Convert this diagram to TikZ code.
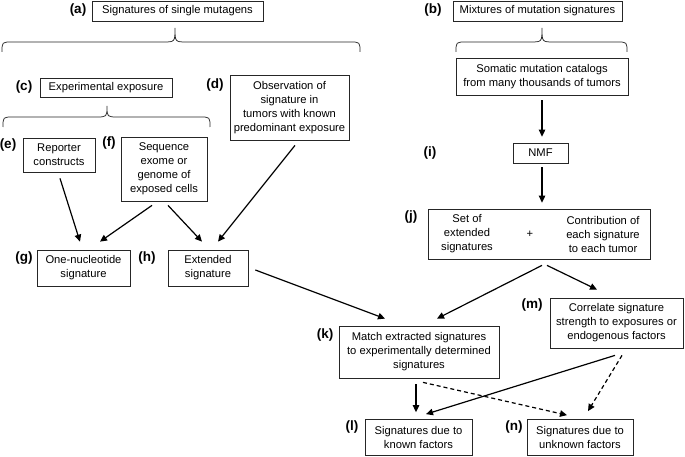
\documentclass[tikz,border=0pt]{standalone}
\usepackage{fontspec}
\setmainfont{Liberation Sans}
\usetikzlibrary{arrows.meta}
\begin{document}
\begin{tikzpicture}[x=1pt,y=-1pt,
  box/.style={draw=black!85,line width=0.75pt,inner sep=1pt,align=center,font=\fontsize{11.2}{14}\selectfont},
  lab/.style={font=\fontsize{13.5}{14}\selectfont\bfseries,inner sep=0pt},
  arr/.style={line width=1.2pt,-{Triangle[length=7pt,width=6.5pt]}},
  darr/.style={arr,dash pattern=on 4pt off 3pt},
  brc/.style={line width=0.75pt,draw=black!85}]
\useasboundingbox (0,0) rectangle (685,457);
% boxes
\node[box,minimum width=171pt,minimum height=20pt] (a) at (177.5,11) {Signatures of single mutagens};
\node[box,minimum width=169pt,minimum height=20pt] (b) at (537.5,11) {Mixtures of mutation signatures};
\node[box,minimum width=132pt,minimum height=19pt] (c) at (106,87.5) {Experimental exposure};
\node[box,minimum width=119pt,minimum height=65pt] (d) at (289.5,107.5) {Observation of\\signature in\\tumors with known\\predominant exposure};
\node[box,minimum width=172pt,minimum height=37pt] (som) at (542,76.5) {Somatic mutation catalogs\\from many thousands of tumors};
\node[box,minimum width=72pt,minimum height=34pt] (e) at (59,155) {Reporter\\constructs};
\node[box,minimum width=86pt,minimum height=64pt] (f) at (164,169) {Sequence\\exome or\\genome of\\exposed cells};
\node[box,minimum width=93pt,minimum height=36pt] (g) at (83.5,268) {One-nucleotide\\signature};
\node[box,minimum width=80pt,minimum height=36pt] (h) at (208,268) {Extended\\signature};
\node[box,minimum width=55pt,minimum height=20pt] (nmf) at (540.5,153) {NMF};
\node[box,minimum width=222pt,minimum height=50pt] (j) at (539,234) {};
\node[box,draw=none] (j1) at (467,234) {Set of\\extended\\signatures};
\node[box,draw=none] (jp) at (530,234) {+};
\node[box,draw=none] (j2) at (603,234) {Contribution of\\each signature\\to each tumor};
\node[box,minimum width=160pt,minimum height=52pt] (k) at (419,352) {Match extracted signatures\\to experimentally determined\\signatures};
\node[box,minimum width=133pt,minimum height=50pt] (m) at (616.5,323) {Correlate signature\\strength to exposures or\\endogenous factors};
\node[box,minimum width=107pt,minimum height=36pt] (l) at (418.5,437.5) {Signatures due to\\known factors};
\node[box,minimum width=106pt,minimum height=36pt] (n) at (580,437.5) {Signatures due to\\unknown factors};
% labels
\node[lab] (la) at (78,10) {(a)};
\node[lab] (lb) at (433,10) {(b)};
\node[lab] (lc) at (24,87) {(c)};
\node[lab] (ld) at (215,85) {(d)};
\node[lab] (le) at (8,145) {(e)};
\node[lab] (lf) at (109,143) {(f)};
\node[lab] (lg) at (24,258) {(g)};
\node[lab] (lh) at (147,258) {(h)};
\node[lab] (li) at (430,153) {(i)};
\node[lab] (lj) at (411,217) {(j)};
\node[lab] (lk) at (325,335) {(k)};
\node[lab] (lm) at (532,305) {(m)};
\node[lab] (ll) at (352,427) {(l)};
\node[lab] (ln) at (514,427) {(n)};
% braces
\draw[brc] (2,52) .. controls (2,42) .. (12,42) -- (163,42) .. controls (175,42) .. (175,28) .. controls (175,42) .. (187,42) -- (350,42) .. controls (360,42) .. (360,52);
\draw[brc] (456,52) .. controls (456,42) .. (466,42) -- (530,42) .. controls (542,42) .. (542,28) .. controls (542,42) .. (554,42) -- (617,42) .. controls (627,42) .. (627,52);
\draw[brc] (3,127) .. controls (3,117) .. (13,117) -- (96,117) .. controls (107,117) .. (107,106) .. controls (107,117) .. (118,117) -- (200,117) .. controls (210,117) .. (210,127);
% arrows
\draw[arr] ([xshift=1pt,yshift=-6pt]e.south) -- ([xshift=-3.5pt,yshift=8pt]g.north);
\draw[arr] ([xshift=-12pt,yshift=-4pt]f.south) -- ([xshift=16.5pt,yshift=8pt]g.north);
\draw[arr] ([xshift=4pt,yshift=-4pt]f.south) -- ([xshift=-6pt,yshift=8pt]h.north);
\draw[arr] ([xshift=5.5pt,yshift=-5pt]d.south) -- ([xshift=10pt,yshift=8pt]h.north);
\draw[arr] ([yshift=-5pt]som.south) -- ([xshift=1.5pt,yshift=6pt]nmf.north);
\draw[arr] ([xshift=1.5pt,yshift=-4pt]nmf.south) -- ([xshift=3pt,yshift=6pt]j.north);
\draw[arr] ([xshift=3pt,yshift=-6pt]j.south) -- ([xshift=18pt,yshift=7pt]k.north);
\draw[arr] ([xshift=8pt,yshift=-6pt]j.south) -- ([xshift=-19.5pt,yshift=8pt]m.north);
\draw[arr] ([xshift=7pt,yshift=-2pt]h.east) -- ([xshift=-34pt,yshift=7pt]k.north);
\draw[arr] ([xshift=-3pt,yshift=-6pt]k.south) -- ([xshift=-2.5pt,yshift=7pt]l.north);
\draw[darr] ([xshift=4pt,yshift=-4pt]k.south) -- ([xshift=-13pt,yshift=4pt]n.north);
\draw[arr] ([xshift=-1.5pt,yshift=-7pt]m.south) -- ([xshift=7.5pt,yshift=5pt]l.north);
\draw[darr] ([xshift=5.5pt,yshift=-7pt]m.south) -- ([xshift=8pt,yshift=8pt]n.north);
\end{tikzpicture}
\end{document}
